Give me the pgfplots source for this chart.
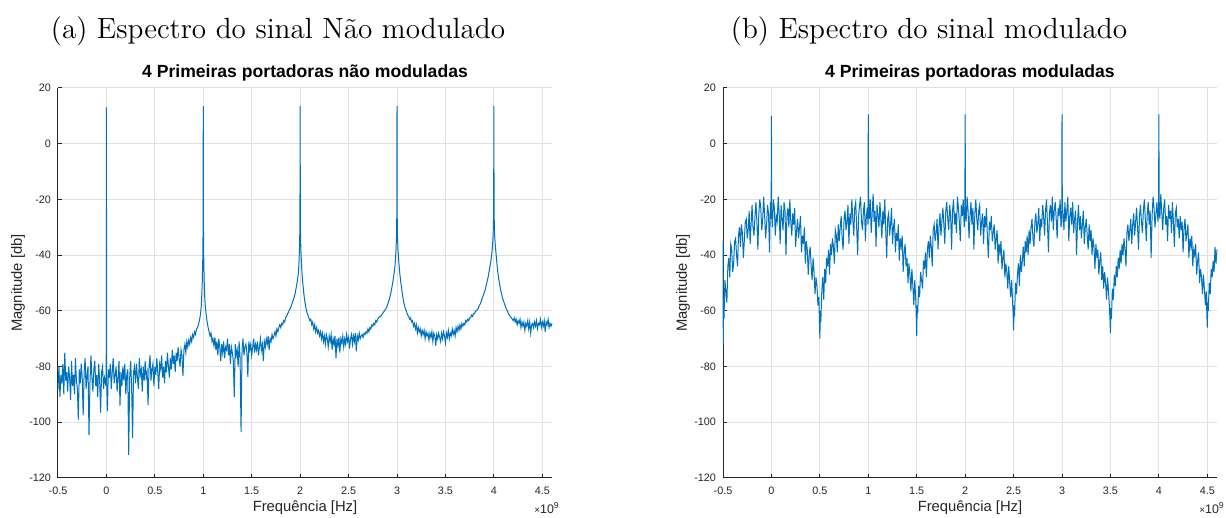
\documentclass[border=0pt]{standalone}
\usepackage{fontspec}
\newfontfamily\hv{Liberation Sans}
\usepackage{pgfplots}
\usepackage{pgfplotstable}
\pgfplotsset{compat=1.18}
\definecolor{mblue}{RGB}{0,114,189}
\definecolor{axgray}{RGB}{38,38,38}
\definecolor{gridgray}{RGB}{225,225,225}

\pgfplotstableread{
x y
-0.50 -88
-0.49 -80
-0.48 -91
-0.47 -83
-0.46 -86
-0.45 -79
-0.44 -90
-0.43 -75
-0.42 -85
-0.41 -82
-0.40 -89
-0.39 -80
-0.38 -84
-0.37 -92
-0.36 -78
-0.35 -87
-0.34 -83
-0.33 -90
-0.32 -77
-0.31 -85
-0.30 -88
-0.29 -99
-0.28 -81
-0.27 -86
-0.26 -79
-0.25 -84
-0.24 -97.5
-0.23 -82
-0.22 -77
-0.21 -88
-0.20 -83
-0.19 -80
-0.18 -104.5
-0.17 -86
-0.16 -76
-0.15 -84
-0.14 -89
-0.13 -81
-0.12 -78
-0.11 -87
-0.10 -83
-0.09 -91
-0.08 -79
-0.07 -85
-0.06 -96.5
-0.05 -82
-0.04 -80
-0.03 -88
-0.02 -84
-0.01 -86
-0.002 -83
0.00 13
0.002 -85
0.01 -96
0.02 -81
0.03 -84
0.04 -79
0.05 -88
0.06 -82
0.07 -77
0.08 -86
0.09 -83
0.10 -80
0.11 -89
0.12 -84
0.13 -78
0.14 -94
0.15 -82
0.16 -87
0.17 -80
0.18 -85
0.19 -79
0.20 -90
0.21 -83
0.22 -81
0.23 -111.7
0.24 -84
0.25 -78
0.26 -87
0.27 -105.7
0.28 -82
0.29 -80
0.30 -86
0.31 -79
0.32 -84
0.33 -88
0.34 -77
0.35 -83
0.36 -81
0.37 -89
0.38 -80
0.39 -85
0.40 -78
0.41 -84
0.42 -82
0.43 -93.8
0.44 -80
0.45 -76
0.46 -85
0.47 -81
0.48 -79
0.49 -87
0.50 -80
0.51 -83
0.52 -77
0.53 -82
0.54 -88
0.55 -79
0.56 -81
0.57 -76
0.58 -84
0.59 -80
0.60 -86
0.61 -78
0.62 -82
0.63 -75
0.64 -80
0.65 -84
0.66 -77
0.67 -81
0.68 -74
0.69 -79
0.70 -76
0.71 -82
0.72 -75
0.73 -78
0.74 -73
0.75 -77
0.76 -80
0.77 -74
0.78 -76
0.79 -83.4
0.80 -74
0.81 -72
0.82 -75
0.83 -71
0.84 -73
0.85 -70.5
0.86 -72
0.87 -69.5
0.88 -71
0.89 -68.5
0.90 -69.5
0.91 -67.5
0.92 -68.5
0.93 -66.5
0.94 -66
0.95 -65
0.96 -63.5
0.97 -61.5
0.98 -58
0.985 -54
0.99 -49
0.995 -41
0.998 -30
1.00 13.5
1.002 -31
1.005 -42
1.01 -50
1.015 -55
1.02 -58
1.03 -61.5
1.04 -64
1.05 -66
1.06 -67.5
1.07 -69
1.08 -68
1.09 -71
1.10 -70
1.11 -72.5
1.12 -69.5
1.13 -74
1.14 -71
1.15 -76
1.16 -70
1.17 -73
1.18 -78
1.19 -72
1.20 -75
1.21 -71
1.22 -77
1.23 -73
1.24 -74
1.25 -70
1.26 -76
1.27 -72
1.28 -79
1.29 -73
1.30 -75
1.31 -78
1.32 -91
1.33 -72
1.34 -76
1.35 -74
1.36 -80
1.37 -71
1.38 -77
1.39 -103.5
1.40 -74
1.41 -70
1.42 -76
1.43 -73
1.44 -72
1.45 -75
1.46 -83.7
1.47 -71
1.48 -74
1.49 -72
1.50 -76
1.51 -73
1.52 -70
1.53 -75
1.54 -72
1.55 -74
1.56 -71
1.57 -76
1.58 -73
1.59 -70
1.60 -74
1.61 -72
1.62 -78
1.63 -71
1.64 -73
1.65 -70
1.66 -72
1.67 -69
1.68 -74
1.69 -70
1.70 -71
1.71 -68.5
1.72 -70
1.73 -69
1.74 -67.5
1.75 -69
1.76 -66.5
1.77 -67.5
1.78 -66
1.79 -65
1.80 -66
1.81 -64.5
1.82 -65
1.83 -63.5
1.84 -64
1.85 -62.5
1.86 -62
1.87 -61
1.88 -60.5
1.89 -59.5
1.90 -59
1.91 -58
1.92 -57
1.93 -56
1.94 -55
1.95 -53.5
1.96 -51.5
1.97 -49.5
1.98 -47
1.985 -44.5
1.99 -41
1.995 -35
1.998 -27
2.00 13.5
2.002 -28
2.005 -35
2.01 -40
2.015 -44
2.02 -47
2.03 -51
2.04 -54.5
2.05 -57
2.06 -59
2.07 -60.5
2.08 -61.5
2.09 -62.5
2.10 -63.5
2.11 -63
2.12 -65
2.13 -64
2.14 -66.5
2.15 -65
2.16 -67.5
2.17 -66
2.18 -68
2.19 -67
2.20 -69
2.21 -67.5
2.22 -70
2.23 -68
2.24 -71
2.25 -69
2.26 -72
2.27 -68.5
2.28 -70
2.29 -73
2.30 -69
2.31 -71
2.32 -68.5
2.33 -74
2.34 -70
2.35 -72
2.36 -69
2.37 -77
2.38 -70
2.39 -72.5
2.40 -69.5
2.41 -75
2.42 -70
2.43 -71.5
2.44 -69
2.45 -73
2.46 -70
2.47 -72
2.48 -68.5
2.49 -71
2.50 -69.5
2.51 -73.5
2.52 -70
2.53 -68.5
2.54 -72
2.55 -69
2.56 -71
2.57 -68
2.58 -74.5
2.59 -69
2.60 -70.5
2.61 -68
2.62 -70
2.63 -69
2.64 -68.5
2.65 -69.5
2.66 -68
2.67 -68.5
2.68 -67.5
2.69 -68
2.70 -66.5
2.71 -67.5
2.72 -66
2.73 -66.5
2.74 -65
2.75 -65.5
2.76 -64.5
2.77 -65
2.78 -63.5
2.79 -64
2.80 -63
2.81 -62.5
2.82 -62
2.83 -62
2.84 -61.5
2.85 -61
2.86 -60.5
2.87 -60
2.88 -59.5
2.89 -59
2.90 -58
2.91 -57
2.92 -56
2.93 -54.5
2.94 -53
2.95 -51
2.96 -49
2.97 -46.5
2.98 -43.5
2.985 -41
2.99 -38
2.995 -33
2.998 -25
3.00 13.5
3.002 -26
3.005 -33
3.01 -38
3.02 -43
3.03 -47
3.04 -50
3.05 -52.5
3.06 -55
3.07 -57
3.08 -58.5
3.09 -59.5
3.10 -60.5
3.11 -61.5
3.12 -62
3.13 -63
3.14 -62.5
3.15 -64
3.16 -63.5
3.17 -65.5
3.18 -64.5
3.19 -66.5
3.20 -65
3.21 -68
3.22 -66
3.23 -67.5
3.24 -66.5
3.25 -69
3.26 -67
3.27 -68.5
3.28 -67
3.29 -70
3.30 -67.5
3.31 -69
3.32 -68
3.33 -70.5
3.34 -68
3.35 -69.5
3.36 -67.5
3.37 -71
3.38 -68
3.39 -69
3.40 -72.5
3.41 -68.5
3.42 -70
3.43 -68
3.44 -69.5
3.45 -71
3.46 -68
3.47 -70
3.48 -67.5
3.49 -69
3.50 -71.5
3.51 -68
3.52 -69.5
3.53 -67
3.54 -70
3.55 -68
3.56 -69
3.57 -66.5
3.58 -68.5
3.59 -67
3.60 -69
3.61 -66
3.62 -67.5
3.63 -65.5
3.64 -67
3.65 -65
3.66 -66.5
3.67 -64.5
3.68 -65.5
3.69 -64.5
3.70 -65
3.71 -63.5
3.72 -64
3.73 -63
3.74 -63.5
3.75 -62.5
3.76 -62.5
3.77 -61.5
3.78 -62
3.79 -61
3.80 -61
3.81 -60
3.82 -60
3.83 -59.5
3.84 -59
3.85 -58
3.86 -57.5
3.87 -56.5
3.88 -55.5
3.89 -54.5
3.90 -53.5
3.91 -52.5
3.92 -51
3.93 -49.5
3.94 -48
3.95 -46
3.96 -44
3.97 -42
3.98 -39
3.985 -37
3.99 -34.5
3.995 -30
3.998 -22
4.00 13.5
4.002 -23
4.005 -30
4.01 -34
4.015 -36.5
4.02 -38.5
4.03 -42.5
4.04 -46
4.05 -48.5
4.06 -50.5
4.07 -52.5
4.08 -54
4.09 -55.5
4.10 -56.5
4.11 -57.5
4.12 -58.5
4.13 -59.5
4.14 -60
4.15 -61
4.16 -61.5
4.17 -62
4.18 -62.5
4.19 -63
4.20 -63.5
4.21 -62.5
4.22 -64
4.23 -63
4.24 -65
4.25 -63.5
4.26 -64.5
4.27 -63
4.28 -66
4.29 -64
4.30 -65.5
4.31 -64
4.32 -67
4.33 -64.5
4.34 -65.5
4.35 -63.5
4.36 -66.5
4.37 -64
4.38 -68
4.39 -65
4.40 -64.5
4.41 -66
4.42 -64
4.43 -65.5
4.44 -63.5
4.45 -66.5
4.46 -64.5
4.47 -65
4.48 -63
4.49 -66
4.50 -64
4.51 -65.5
4.52 -63.5
4.53 -67.5
4.54 -64
4.55 -65
4.56 -63
4.57 -66
4.58 -64.5
4.59 -65.5
4.60 -64.5
}\dataA

\pgfplotstableread{
x y
-0.50 -35
-0.497 -72
-0.495 -60
-0.49 -63
-0.48 -49
-0.47 -53
-0.46 -57
-0.45 -44
-0.44 -41
-0.43 -48
-0.42 -36
-0.41 -38
-0.40 -46
-0.39 -43
-0.38 -35
-0.37 -34
-0.36 -40
-0.35 -44
-0.34 -33
-0.33 -30
-0.32 -37
-0.31 -29
-0.30 -32
-0.29 -41
-0.28 -35
-0.27 -28
-0.26 -27
-0.25 -34
-0.24 -31
-0.23 -24
-0.22 -36
-0.21 -29
-0.20 -22
-0.19 -30
-0.18 -33
-0.17 -26
-0.16 -21
-0.15 -28
-0.14 -38
-0.13 -25
-0.12 -20
-0.11 -23
-0.10 -31
-0.09 -27
-0.08 -19
-0.07 -26
-0.06 -34
-0.05 -29
-0.04 -22
-0.03 -25
-0.02 -39
-0.01 -21
-0.003 -27
0.00 10
0.003 -24
0.01 -30
0.02 -20
0.03 -23
0.04 -33
0.05 -26
0.06 -28
0.07 -19
0.08 -25
0.09 -36
0.10 -22
0.11 -27
0.12 -31
0.13 -21
0.14 -24
0.15 -40
0.16 -26
0.17 -23
0.18 -30
0.19 -20
0.20 -28
0.21 -33
0.22 -25
0.23 -29
0.24 -23
0.25 -37
0.26 -31
0.27 -27
0.28 -34
0.29 -30
0.30 -26
0.31 -39
0.32 -33
0.33 -36
0.34 -30
0.35 -43
0.36 -35
0.37 -38
0.38 -47
0.39 -40
0.40 -37
0.41 -44
0.42 -49
0.43 -41
0.44 -46
0.45 -54
0.46 -48
0.47 -51
0.48 -58
0.49 -55
0.495 -63
0.50 -70
0.505 -60
0.51 -64
0.52 -53
0.53 -48
0.54 -56
0.55 -45
0.56 -50
0.57 -41
0.58 -44
0.59 -38
0.60 -47
0.61 -36
0.62 -40
0.63 -34
0.64 -37
0.65 -43
0.66 -31
0.67 -33
0.68 -39
0.69 -29
0.70 -35
0.71 -30
0.72 -26
0.73 -34
0.74 -38
0.75 -27
0.76 -24
0.77 -31
0.78 -28
0.79 -22
0.80 -36
0.81 -25
0.82 -29
0.83 -20
0.84 -27
0.85 -33
0.86 -23
0.87 -21
0.88 -30
0.89 -40
0.90 -26
0.91 -22
0.92 -19
0.93 -28
0.94 -31
0.95 -24
0.96 -21
0.97 -35
0.98 -26
0.99 -23
0.997 -29
1.00 10.5
1.003 -22
1.01 -27
1.02 -20
1.03 -32
1.04 -25
1.05 -18
1.06 -28
1.07 -24
1.08 -37
1.09 -22
1.10 -26
1.11 -30
1.12 -21
1.13 -27
1.14 -34
1.15 -24
1.16 -29
1.17 -20
1.18 -31
1.19 -41
1.20 -27
1.21 -25
1.22 -33
1.23 -29
1.24 -23
1.25 -36
1.26 -30
1.27 -27
1.28 -39
1.29 -32
1.30 -35
1.31 -29
1.32 -42
1.33 -34
1.34 -37
1.35 -33
1.36 -46
1.37 -39
1.38 -36
1.39 -44
1.40 -41
1.41 -50
1.42 -43
1.43 -47
1.44 -53
1.45 -45
1.46 -51
1.47 -58
1.48 -49
1.49 -56
1.495 -62
1.50 -69
1.505 -58
1.51 -61
1.52 -51
1.53 -55
1.54 -46
1.55 -49
1.56 -52
1.57 -42
1.58 -45
1.59 -39
1.60 -48
1.61 -38
1.62 -35
1.63 -41
1.64 -33
1.65 -37
1.66 -44
1.67 -31
1.68 -29
1.69 -35
1.70 -32
1.71 -27
1.72 -38
1.73 -30
1.74 -25
1.75 -33
1.76 -28
1.77 -23
1.78 -29
1.79 -36
1.80 -24
1.81 -21
1.82 -27
1.83 -31
1.84 -22
1.85 -26
1.86 -38
1.87 -24
1.88 -20
1.89 -29
1.90 -25
1.91 -32
1.92 -19
1.93 -23
1.94 -28
1.95 -35
1.96 -22
1.97 -26
1.98 -20
1.99 -30
1.997 -25
2.00 10.5
2.003 -23
2.01 -28
2.02 -19
2.03 -24
2.04 -34
2.05 -26
2.06 -21
2.07 -29
2.08 -23
2.09 -38
2.10 -25
2.11 -20
2.12 -27
2.13 -31
2.14 -24
2.15 -22
2.16 -33
2.17 -28
2.18 -25
2.19 -36
2.20 -26
2.21 -30
2.22 -23
2.23 -34
2.24 -41
2.25 -28
2.26 -31
2.27 -26
2.28 -35
2.29 -32
2.30 -29
2.31 -38
2.32 -34
2.33 -31
2.34 -43
2.35 -36
2.36 -39
2.37 -35
2.38 -45
2.39 -41
2.40 -38
2.41 -48
2.42 -43
2.43 -46
2.44 -52
2.45 -44
2.46 -50
2.47 -55
2.48 -49
2.49 -57
2.495 -61
2.50 -67
2.505 -58
2.51 -62
2.52 -50
2.53 -54
2.54 -47
2.55 -43
2.56 -51
2.57 -40
2.58 -46
2.59 -42
2.60 -37
2.61 -44
2.62 -35
2.63 -39
2.64 -33
2.65 -40
2.66 -31
2.67 -36
2.68 -30
2.69 -27
2.70 -34
2.71 -37
2.72 -28
2.73 -25
2.74 -32
2.75 -29
2.76 -23
2.77 -35
2.78 -27
2.79 -30
2.80 -22
2.81 -26
2.82 -33
2.83 -24
2.84 -20
2.85 -29
2.86 -39
2.87 -25
2.88 -22
2.89 -28
2.90 -19
2.91 -31
2.92 -24
2.93 -21
2.94 -27
2.95 -34
2.96 -23
2.97 -26
2.98 -20
2.99 -30
2.997 -27
3.00 10.5
3.003 -22
3.01 -25
3.02 -31
3.03 -21
3.04 -28
3.05 -24
3.06 -19
3.07 -35
3.08 -26
3.09 -23
3.10 -29
3.11 -21
3.12 -32
3.13 -27
3.14 -24
3.15 -40
3.16 -28
3.17 -22
3.18 -31
3.19 -26
3.20 -34
3.21 -29
3.22 -24
3.23 -36
3.24 -30
3.25 -27
3.26 -33
3.27 -38
3.28 -29
3.29 -35
3.30 -31
3.31 -40
3.32 -34
3.33 -37
3.34 -45
3.35 -36
3.36 -41
3.37 -38
3.38 -47
3.39 -42
3.40 -39
3.41 -49
3.42 -44
3.43 -52
3.44 -46
3.45 -50
3.46 -56
3.47 -48
3.48 -53
3.49 -59
3.495 -63
3.50 -68
3.505 -59
3.51 -63
3.52 -52
3.53 -56
3.54 -47
3.55 -51
3.56 -44
3.57 -48
3.58 -41
3.59 -45
3.60 -38
3.61 -43
3.62 -36
3.63 -40
3.64 -34
3.65 -38
3.66 -44
3.67 -32
3.68 -29
3.69 -35
3.70 -31
3.71 -27
3.72 -36
3.73 -29
3.74 -25
3.75 -33
3.76 -28
3.77 -23
3.78 -30
3.79 -38
3.80 -26
3.81 -22
3.82 -28
3.83 -32
3.84 -24
3.85 -20
3.86 -27
3.87 -35
3.88 -25
3.89 -21
3.90 -29
3.91 -24
3.92 -41
3.93 -26
3.94 -19
3.95 -23
3.96 -30
3.97 -25
3.98 -21
3.99 -28
3.997 -24
4.00 10.5
4.003 -22
4.01 -27
4.02 -18
4.03 -25
4.04 -31
4.05 -23
4.06 -20
4.07 -29
4.08 -26
4.09 -35
4.10 -22
4.11 -27
4.12 -24
4.13 -32
4.14 -21
4.15 -28
4.16 -37
4.17 -25
4.18 -23
4.19 -30
4.20 -27
4.21 -34
4.22 -26
4.23 -31
4.24 -28
4.25 -39
4.26 -30
4.27 -27
4.28 -35
4.29 -32
4.30 -29
4.31 -41
4.32 -34
4.33 -37
4.34 -33
4.35 -44
4.36 -38
4.37 -40
4.38 -36
4.39 -47
4.40 -42
4.41 -39
4.42 -50
4.43 -45
4.44 -48
4.45 -54
4.46 -47
4.47 -52
4.48 -58
4.49 -53
4.495 -61
4.50 -66
4.505 -57
4.51 -60
4.52 -50
4.53 -54
4.54 -45
4.55 -48
4.56 -42
4.57 -46
4.58 -37
4.59 -43
4.60 -38
}\dataB

\pgfplotsset{
  specax/.style={
    scale only axis,
    width=247pt, height=195pt,
    xmin=-0.5, xmax=4.6, ymin=-120, ymax=20,
    enlargelimits=false,
    axis x line=bottom, axis y line=left,
    axis line style={-, draw=axgray, line width=0.5pt},
    xtick={-0.5,0,0.5,1,1.5,2,2.5,3,3.5,4,4.5},
    ytick={-120,-100,-80,-60,-40,-20,0,20},
    xticklabels={-0.5,0,0.5,1,1.5,2,2.5,3,3.5,4,4.5},
    yticklabels={-120,-100,-80,-60,-40,-20,0,20},
    tick align=inside,
    major tick length=2pt,
    tick style={draw=axgray, line width=0.5pt},
    grid=major,
    grid style={draw=gridgray, line width=0.5pt},
    tick label style={font=\hv\fontsize{5.4}{6}\selectfont, text=axgray},
    xticklabel style={yshift=-1pt},
    xlabel={Frequência [Hz]},
    ylabel={Magnitude [db]},
    every axis x label/.style={at={(axis description cs:0.5,-0.077)}, anchor=center,
      font=\hv\fontsize{7.4}{8.5}\selectfont, text=axgray},
    every axis y label/.style={at={(axis description cs:-0.081,0.5)}, anchor=center, rotate=90,
      font=\hv\fontsize{7.4}{8.5}\selectfont, text=axgray},
    every axis title/.style={at={(axis description cs:0.5,1.0385)}, anchor=center,
      font=\hv\bfseries\fontsize{8.8}{10}\selectfont},
    clip=false,
  }
}

\begin{document}
\begin{tikzpicture}
\useasboundingbox (-29pt,-20pt) rectangle (584pt,239pt);
\begin{axis}[specax, at={(0pt,0pt)}, anchor=south west,
  title={4 Primeiras portadoras não moduladas}]
\addplot[mblue, line width=0.5pt, mark=none] table[x=x,y=y] {\dataA};
\node[font=\hv\fontsize{6.2}{7}\selectfont, text=axgray] at (axis description cs:0.99,-0.078) {{\fontsize{5}{6}\selectfont×}10\textsuperscript{9}};
\end{axis}
\begin{axis}[specax, at={(332.5pt,0pt)}, anchor=south west,
  title={4 Primeiras portadoras moduladas}]
\addplot[mblue, line width=0.5pt, mark=none] table[x=x,y=y] {\dataB};
\node[font=\hv\fontsize{6.2}{7}\selectfont, text=axgray] at (axis description cs:0.99,-0.078) {{\fontsize{5}{6}\selectfont×}10\textsuperscript{9}};
\end{axis}
\node[font=\fontsize{14.6}{17}\selectfont] at (110pt,223.5pt) {(a) Espectro do sinal Não modulado};
\node[font=\fontsize{14.6}{17}\selectfont] at (435.5pt,223.5pt) {(b) Espectro do sinal modulado};
\end{tikzpicture}
\end{document}
